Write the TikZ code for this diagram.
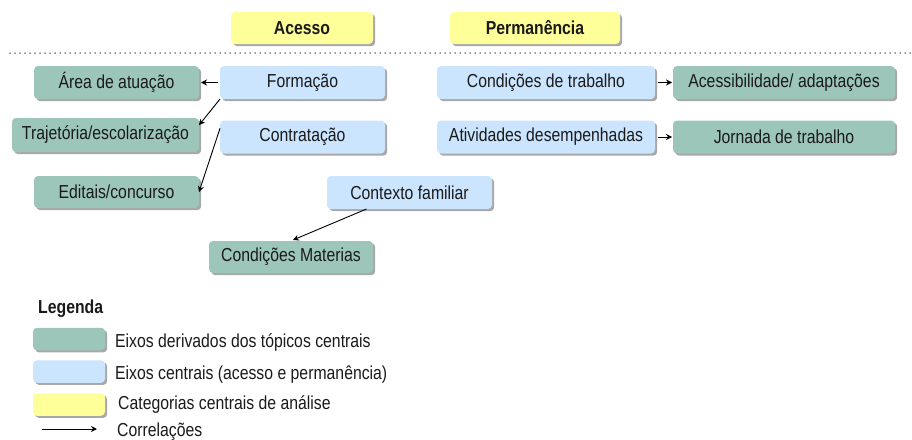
\documentclass[tikz,border=0pt]{standalone}
\usepackage{fontspec}
\setmainfont{Liberation Sans}
\newfontfamily\tallsans[FakeStretch=0.84]{Liberation Sans}
\usetikzlibrary{shadows,arrows.meta,calc}
\definecolor{derivgreen}{HTML}{9DC6BB}
\definecolor{centblue}{HTML}{CCE5FF}
\definecolor{catyellow}{HTML}{FFFF99}
\definecolor{shadowgray}{HTML}{A8A8A8}
\definecolor{txt}{HTML}{1A1A1A}
\newcommand{\boxfont}{\tallsans\fontsize{18.8}{21}\selectfont}
\tikzset{
  boxbase/.style={rounded corners=4pt, draw=none, inner sep=0pt, outer sep=0pt,
    text=txt, font=\boxfont,
    drop shadow={shadow xshift=2.2pt, shadow yshift=-2.2pt, fill=shadowgray, opacity=1}},
  greenbox/.style={boxbase, fill=derivgreen, minimum height=33pt},
  bluebox/.style={boxbase, fill=centblue, minimum height=33pt},
  yellowbox/.style={boxbase, fill=catyellow, minimum height=32pt, font=\boxfont\bfseries},
  legbox/.style={boxbase, minimum width=72pt, minimum height=22.5pt},
  legtext/.style={anchor=west, inner sep=0pt, text=txt, font=\boxfont},
  corr/.style={-{Stealth[length=6pt,width=6pt]}, line width=0.9pt, black},
  sep/.style={line width=1.5pt, line cap=round, dash pattern=on 0pt off 5pt, black!85}
}
\begin{document}
\begin{tikzpicture}[x=1pt,y=-1pt]
\useasboundingbox (0,0) rectangle (912,439);
% categories
\node[yellowbox, minimum width=142pt] (acesso) at (302,28) {Acesso};
\node[yellowbox, minimum width=170pt] (perm) at (535,28) {Permanência};
% separator
\coordinate (s1) at (10,53);
\coordinate (s2) at (910,53);
\draw[sep] (s1) -- (s2);
% access side
\node[greenbox, minimum width=165pt] (area) at (116.5,82.5) {Área de atuação};
\node[bluebox, minimum width=165pt] (formacao) at (302.5,82.5) {Formação};
\node[greenbox, minimum width=187pt, minimum height=34pt] (traj) at (105.5,135) {Trajetória/escolarização};
\node[bluebox, minimum width=165pt] (contrat) at (302.5,137) {Contratação};
\node[greenbox, minimum width=165pt, minimum height=32pt] (editais) at (116.5,192) {Editais/concurso};
\node[bluebox, minimum width=165pt] (contexto) at (409.5,192.5) {Contexto familiar};
\node[greenbox, minimum width=164pt, minimum height=32pt] (condmat) at (291,257) {Condições Materias};
% permanence side
\node[bluebox, minimum width=218pt] (condtrab) at (546,82.5) {Condições de trabalho};
\node[greenbox, minimum width=222pt] (acess) at (784,82.5) {Acessibilidade/ adaptações};
\node[bluebox, minimum width=218pt] (ativ) at (546,137) {Atividades desempenhadas};
\node[greenbox, minimum width=222pt] (jornada) at (784,137) {Jornada de trabalho};
% connectors
\draw[corr] ($(formacao.west)+(-2,0)$) -- ($(area.east)+(2,0)$);
\draw[corr] (formacao.south west) -- (traj.6);
\draw[corr] (contrat.174) -- (editais.east);
\draw[corr] (contexto.201) -- ($(condmat.north)+(2,-1)$);
\draw[corr] ($(condtrab.east)+(3,0)$) -- ($(acess.west)+(-1,0)$);
\draw[corr] ($(ativ.east)+(3,0)$) -- ($(jornada.west)+(-1,0)$);
% legend
\node[anchor=west, inner sep=0pt, text=txt, font=\boxfont\bfseries] (legtitle) at (38,309) {Legenda};
\node[legbox, fill=derivgreen] (lg) at (69,339) {};
\node[legtext] (lgt) at (115,343) {Eixos derivados dos tópicos centrais};
\node[legbox, fill=centblue] (lb) at (69,371.5) {};
\node[legtext] (lbt) at (115,375) {Eixos centrais (acesso e permanência)};
\node[legbox, fill=catyellow] (ly) at (69,404.5) {};
\node[legtext] (lyt) at (118,405) {Categorias centrais de análise};
\coordinate (la1) at (42,429);
\coordinate (la2) at (97,429);
\draw[corr] (la1) -- (la2);
\node[legtext] (lat) at (117,432) {Correlações};
\end{tikzpicture}
\end{document}
